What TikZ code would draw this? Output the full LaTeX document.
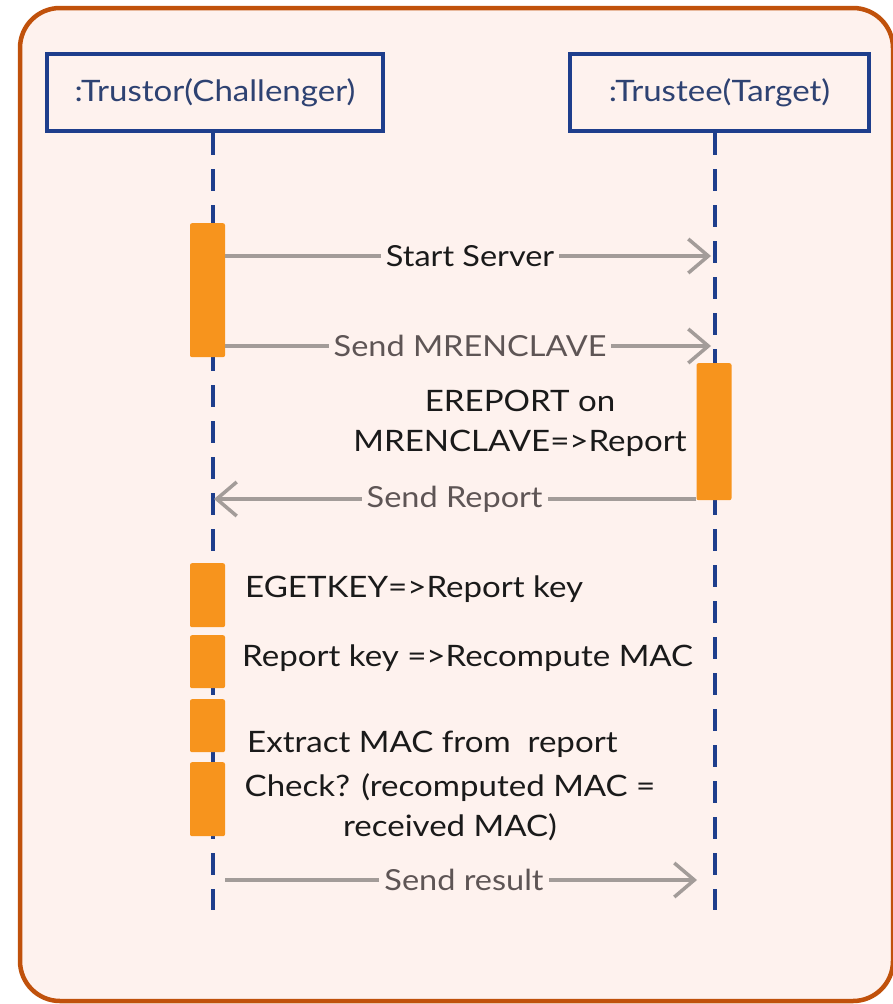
\documentclass[tikz,border=0pt]{standalone}
\usepackage{fontspec}
\setmainfont{Lato}[FakeStretch=1.12]
\definecolor{FrameRust}{HTML}{C0510B}
\definecolor{PaperPink}{HTML}{FEF2EE}
\definecolor{LineBlue}{HTML}{1E3E8C}
\definecolor{TitleBlue}{HTML}{2E4272}
\definecolor{BarOrange}{HTML}{F7941D}
\definecolor{ArrowGrey}{HTML}{A39C99}
\definecolor{LabelGrey}{HTML}{5E5555}
\definecolor{NoteBlack}{HTML}{1A1A1A}
\usetikzlibrary{positioning, arrows.meta, calc}

\begin{document}
\begin{tikzpicture}[x=1pt, y=-1pt,
  actor/.style={draw=LineBlue, line width=4pt, fill=PaperPink,
    minimum height=77pt, inner sep=0pt,
    font=\fontsize{29.5}{34}\selectfont, text=TitleBlue},
  life/.style={LineBlue, line width=3.5pt, dash pattern=on 22pt off 14pt},
  act/.style={fill=BarOrange, rounded corners=2pt, minimum width=35pt,
    inner sep=0pt, anchor=north},
  msg/.style={-{Straight Barb[length=20pt, width=34pt]}, line width=3.5pt, ArrowGrey},
  lbl/.style={fill=PaperPink, inner sep=5pt,
    font=\fontsize{29}{34}\selectfont, text=LabelGrey},
  note/.style={font=\fontsize{29.5}{40}\selectfont, text=NoteBlack, inner sep=0pt},
]
  \useasboundingbox (0,0) rectangle (892,1004);
  \draw[FrameRust, line width=4.5pt, fill=PaperPink, rounded corners=40pt]
    (20,8) rectangle (893,1001);

  % Lifelines
  \node[actor, minimum width=336pt] (trustor) at (215,92.5) {:Trustor(Challenger)};
  \node[actor, minimum width=299pt, right=183pt of trustor] (trustee) {:Trustee(Target)};
  \coordinate (trustor end) at (213,910);
  \coordinate (trustee end) at (715,910);
  \draw[life] (trustor.south -| trustor end) -- (trustor end);
  \draw[life] (trustee.south -| trustee end) -- (trustee end);

  % Activations
  \node[act, minimum height=134pt] (act1) at (207.5,223) {};
  \node[act, minimum height=137pt] (act2) at (714,363) {};
  \node[act, minimum height=64pt] (chk1) at (207.5,563) {};
  \node[act, minimum height=53pt] (chk2) at (207.5,635) {};
  \node[act, minimum height=53pt] (chk3) at (207.5,699) {};
  \node[act, minimum height=74pt] (chk4) at (207.5,762) {};

  % Messages
  \coordinate (ss) at (715,256);
  \coordinate (sm) at (715,346);
  \coordinate (sr) at (213,499);
  \coordinate (sres) at (715,880);
  \draw[msg, shorten >=4pt] (act1.east |- ss) -- node[lbl, text=NoteBlack] {Start Server} (ss);
  \draw[msg, shorten >=4pt] (act1.east |- sm) -- node[lbl] {Send MRENCLAVE} (sm);
  \draw[msg, shorten >=1pt] (act2.west |- sr) -- node[lbl] {Send Report} (sr);
  \draw[msg, shorten <=12pt, shorten >=18pt] (trustor end |- sres) -- node[lbl] {Send result} (sres);

  % Notes
  \node[note, align=center] (ereport) at (520,423) {EREPORT on\\MRENCLAVE=>Report};
  \node[note, anchor=west] (egetkey) at (245,589) {EGETKEY=>Report key};
  \node[note, anchor=west] (recompute) at (242,658) {Report key =>Recompute MAC};
  \node[note, anchor=west] (extract) at (247,744) {Extract MAC from\ \ report};
  \node[note, align=center] (check) at (450,807) {Check? (recomputed MAC =\\received MAC)};
\end{tikzpicture}
\end{document}
